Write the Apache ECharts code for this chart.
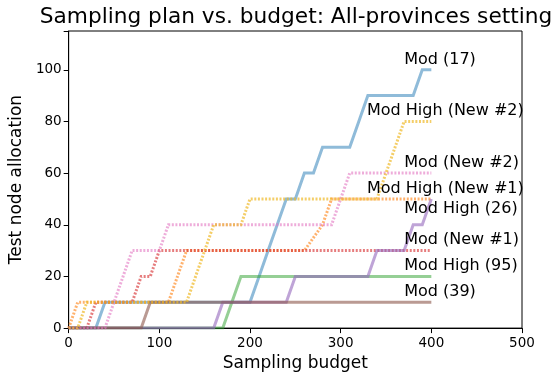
<!DOCTYPE html>
<html>
<head>
<meta charset="utf-8">
<script src="https://cdn.jsdelivr.net/npm/echarts@6/dist/echarts.min.js"></script>
<style>
  html, body { margin: 0; padding: 0; background: #fff; }
  #chart { width: 560px; height: 377px; }
</style>
</head>
<body>
<div id="chart"></div>
<script>
// Sampling budget steps (0 .. 400 in steps of 10)
const budget = [0,10,20,30,40,50,60,70,80,90,100,110,120,130,140,150,160,170,180,190,200,
                210,220,230,240,250,260,270,280,290,300,310,320,330,340,350,360,370,380,390,400];

// Test node allocation per region at each budget step
const mod17 =        [0,0,0,0,10,10,10,10,10,10,10,10,10,10,10,10,10,10,10,10,10,
                      20,30,40,50,50,60,60,70,70,70,70,80,90,90,90,90,90,90,100,100];
const modHighNew1 =  [0,10,10,10,10,10,10,10,10,10,10,10,20,30,30,30,30,30,30,30,30,
                      30,30,30,30,30,30,35,40,50,50,50,50,50,50,50,50,50,50,50,50];
const modHigh95 =    [0,0,0,0,0,0,0,0,0,0,0,0,0,0,0,0,0,0,10,20,20,
                      20,20,20,20,20,20,20,20,20,20,20,20,20,20,20,20,20,20,20,20];
const modNew1 =      [0,0,0,10,10,10,10,10,20,20,30,30,30,30,30,30,30,30,30,30,30,
                      30,30,30,30,30,30,30,30,30,30,30,30,30,30,30,30,30,30,30,30];
const modHigh26 =    [0,0,0,0,0,0,0,0,0,0,0,0,0,0,0,0,0,10,10,10,10,
                      10,10,10,10,20,20,20,20,20,20,20,20,20,30,30,30,30,40,40,50];
const mod39 =        [0,0,0,0,0,0,0,0,0,10,10,10,10,10,10,10,10,10,10,10,10,
                      10,10,10,10,10,10,10,10,10,10,10,10,10,10,10,10,10,10,10,10];
const modNew2 =      [0,0,0,0,0,10,20,30,30,30,30,40,40,40,40,40,40,40,40,40,40,
                      40,40,40,40,40,40,40,40,40,50,60,60,60,60,60,60,60,60,60,60];
const modHighNew2 =  [0,0,10,10,10,10,10,10,10,10,10,10,10,10,20,30,40,40,40,40,50,
                      50,50,50,50,50,50,50,50,50,50,50,50,50,50,60,70,80,80,80,80];

const xTicks = [0, 100, 200, 300, 400, 500];
const yTicks = [0, 20, 40, 60, 80, 100];

const FONT = "'DejaVu Sans', sans-serif";

// Series definitions: name, values, colour, dotted or solid, label anchor (budget, allocation)
const lines = [
  { name: 'Mod (17)',          values: mod17,       color: 'rgba(31,119,180,0.5)',  dotted: false, anchor: [370, 104] },
  { name: 'Mod High (New #1)', values: modHighNew1, color: 'rgba(255,127,14,0.6)',  dotted: true,  anchor: [329, 54] },
  { name: 'Mod High (95)',     values: modHigh95,   color: 'rgba(44,160,44,0.5)',   dotted: false, anchor: [370, 24] },
  { name: 'Mod (New #1)',      values: modNew1,     color: 'rgba(214,39,40,0.6)',   dotted: true,  anchor: [370, 34] },
  { name: 'Mod High (26)',     values: modHigh26,   color: 'rgba(148,103,189,0.6)', dotted: false, anchor: [370, 46] },
  { name: 'Mod (39)',          values: mod39,       color: 'rgba(140,86,75,0.6)',   dotted: false, anchor: [370, 14] },
  { name: 'Mod (New #2)',      values: modNew2,     color: 'rgba(227,119,194,0.6)', dotted: true,  anchor: [370, 64] },
  { name: 'Mod High (New #2)', values: modHighNew2, color: 'rgba(240,185,40,0.7)',  dotted: true,  anchor: [329, 84] }
];

const series = lines.map(l => ({
  name: l.name,
  type: 'line',
  data: budget.map((b, i) => [b, l.values[i]]),
  showSymbol: false,
  symbol: 'none',
  animation: false,
  lineStyle: {
    color: l.color,
    width: 3,
    type: l.dotted ? [2, 1.6] : 'solid',
    cap: 'butt',
    join: 'miter'
  },
  markPoint: {
    symbol: 'circle',
    symbolSize: 0,
    animation: false,
    data: [{ coord: l.anchor, value: l.name }],
    label: {
      show: true,
      position: 'right',
      distance: 0,
      formatter: l.name,
      color: '#000',
      fontFamily: FONT,
      fontSize: 16
    }
  }
}));

const chart = echarts.init(document.getElementById('chart'), null, { renderer: 'canvas' });
chart.setOption({
  animation: false,
  backgroundColor: '#fff',
  grid: {
    left: 68, right: 38, top: 31, bottom: 45,
    show: true, borderColor: '#000', borderWidth: 1, backgroundColor: 'transparent'
  },
  graphic: [{
    type: 'text',
    x: 296, y: 17,
    style: {
      text: 'Sampling plan vs. budget: All-provinces setting',
      font: '21.7px ' + FONT,
      fill: '#000',
      textAlign: 'center',
      textVerticalAlign: 'middle'
    }
  }],
  xAxis: {
    type: 'value', min: 0, max: 500, interval: 100,
    name: 'Sampling budget', nameLocation: 'middle', nameGap: 22,
    nameTextStyle: { fontFamily: FONT, fontSize: 17, color: '#000' },
    axisLine: { show: true, lineStyle: { color: '#000', width: 1 } },
    axisTick: { show: true, length: 5, lineStyle: { color: '#000' } },
    axisLabel: {
      fontFamily: FONT, fontSize: 13.5, color: '#000', margin: 8,
      formatter: v => xTicks.includes(v) ? String(v) : ''
    },
    splitLine: { show: false }
  },
  yAxis: {
    type: 'value', min: 0, max: 115, interval: 20,
    name: 'Test node allocation', nameLocation: 'middle', nameGap: 30, nameRotate: 90,
    nameTextStyle: { fontFamily: FONT, fontSize: 17, color: '#000' },
    axisLine: { show: true, lineStyle: { color: '#000', width: 1 } },
    axisTick: { show: true, length: 5, lineStyle: { color: '#000' } },
    axisLabel: {
      fontFamily: FONT, fontSize: 13.5, color: '#000', margin: 7,
      formatter: v => yTicks.includes(v) ? String(v) : ''
    },
    splitLine: { show: false }
  },
  series: series
});
</script>
</body>
</html>
